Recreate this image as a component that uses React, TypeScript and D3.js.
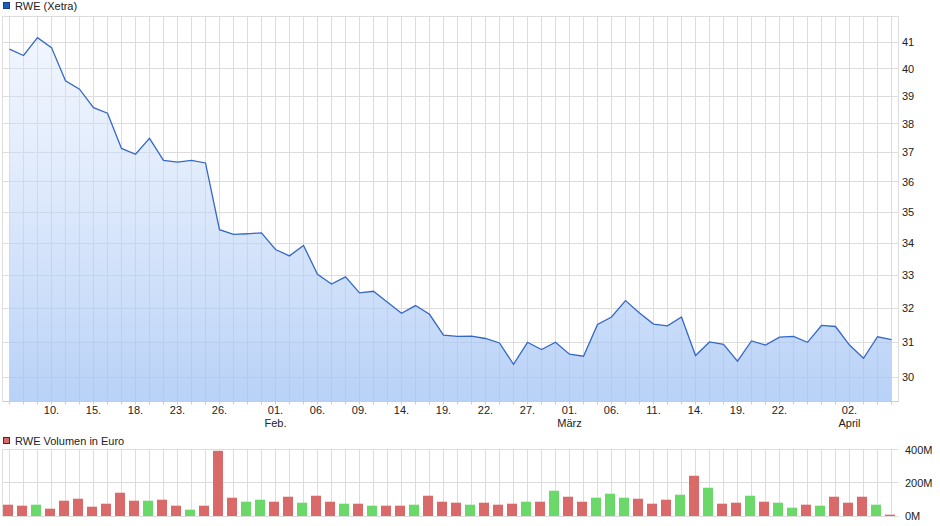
import * as d3 from "d3";
import { useEffect, useRef } from "react";

// Schlusskurse RWE (Xetra), ein Wert je Handelstag
const kurs = [40.74, 40.50, 41.18, 40.80, 39.56, 39.25, 38.58, 38.38, 37.14, 36.94,
  37.49, 36.73, 36.67, 36.73, 36.64, 34.43, 34.28, 34.30, 34.33, 33.80,
  33.60, 33.93, 33.03, 32.73, 32.95, 32.46, 32.51, 32.18, 31.85, 32.08,
  31.82, 31.21, 31.17, 31.18, 31.11, 30.98, 30.37, 31.00, 30.79, 31.00,
  30.66, 30.60, 31.52, 31.74, 32.23, 31.86, 31.53, 31.48, 31.74, 30.62,
  31.01, 30.94, 30.46, 31.04, 30.92, 31.15, 31.17, 31.00, 31.49, 31.46,
  30.92, 30.54, 31.16, 31.08];

// Volumen in Mio. Euro
const volumen = [68, 62, 68, 44, 92, 104, 56, 74, 140, 92,
  92, 98, 62, 38, 62, 392, 110, 86, 98, 86,
  116, 80, 122, 86, 74, 74, 62, 62, 62, 68,
  122, 86, 80, 68, 80, 68, 74, 86, 86, 152,
  116, 86, 110, 134, 110, 104, 74, 98, 128, 242,
  170, 74, 80, 122, 86, 80, 50, 68, 62, 116,
  80, 116, 68, 8];

const tagIdx = [3, 6, 9, 12, 15, 19, 22, 25, 28, 31, 34, 37, 40, 43, 46, 49, 52, 55, 60];
const tagLabels = ["10.", "15.", "18.", "23.", "26.", "01.", "06.", "09.", "14.", "19.", "22.", "27.", "01.", "06.", "11.", "14.", "19.", "22.", "02."];
const monatIdx = [19, 40, 60];
const monatLabels = ["Feb.", "März", "April"];

const kursTicks = [30, 31, 32, 33, 34, 35, 36, 37, 38, 39, 40, 41];
const volTicks = [0, 200, 400];

export default function App() {
  const ref = useRef<SVGSVGElement>(null);

  useEffect(() => {
    const svg = d3.select(ref.current);
    svg.selectAll("*").remove();

    const font = "'Liberation Sans', Arial, sans-serif";
    const grid = "#dddddd";
    const left = 2.5, right = 898.5;
    const top = 16.5, bottom = 401.5;
    const vTop = 449.5, vBottom = 516.5;

    const idx = d3.range(kurs.length);
    const x = d3.scaleLinear().domain([0, kurs.length - 1]).range([9.5, 891.5]);
    const y = d3.scaleLog().domain([29.33, 42.02]).range([401.7, 16]);
    const yv = d3.scaleLinear().domain([0, 400]).range([516, 449.5]);
    const snap = (v: number) => Math.floor(v) + 0.5;

    const defs = svg.append("defs");
    const grad = defs.append("linearGradient")
      .attr("id", "kursFill").attr("x1", 0).attr("y1", 0).attr("x2", 0).attr("y2", 1)
      .attr("gradientUnits", "userSpaceOnUse")
      .attr("x1", 0).attr("y1", top).attr("x2", 0).attr("y2", bottom);
    grad.append("stop").attr("offset", "0%").attr("stop-color", "#dce8fd").attr("stop-opacity", 0.35);
    grad.append("stop").attr("offset", "100%").attr("stop-color", "#9cbff4").attr("stop-opacity", 0.72);

    // Hauptchart: Gitter
    const g = svg.append("g");
    g.selectAll("line.vg").data(idx).enter().append("line")
      .attr("x1", d => x(d)).attr("x2", d => x(d))
      .attr("y1", top).attr("y2", bottom)
      .attr("stroke", grid);
    g.selectAll("line.hg").data(kursTicks).enter().append("line")
      .attr("x1", left).attr("x2", right)
      .attr("y1", d => snap(y(d))).attr("y2", d => snap(y(d)))
      .attr("stroke", grid);
    g.append("line").attr("x1", left).attr("x2", right).attr("y1", top).attr("y2", top).attr("stroke", grid);
    g.append("line").attr("x1", left).attr("x2", left).attr("y1", top).attr("y2", bottom).attr("stroke", grid);
    g.append("line").attr("x1", right).attr("x2", right).attr("y1", top).attr("y2", bottom).attr("stroke", grid);

    // Fläche + Linie
    const area = d3.area<number>().x((d, i) => x(i)).y0(bottom).y1(d => y(d));
    g.append("path").datum(kurs).attr("d", area).attr("fill", "url(#kursFill)");
    const line = d3.line<number>().x((d, i) => x(i)).y(d => y(d));
    g.append("path").datum(kurs).attr("d", line)
      .attr("fill", "none").attr("stroke", "#3468c8").attr("stroke-width", 1.3);

    // x-Achse
    g.append("line").attr("x1", left).attr("x2", right).attr("y1", bottom).attr("y2", bottom).attr("stroke", "#cccccc");
    g.selectAll("line.tk").data(idx).enter().append("line")
      .attr("x1", d => x(d)).attr("x2", d => x(d))
      .attr("y1", bottom).attr("y2", bottom + 3)
      .attr("stroke", "#cccccc");
    g.selectAll("text.tag").data(tagIdx).enter().append("text")
      .attr("x", d => x(d)).attr("y", 414)
      .attr("text-anchor", "middle")
      .attr("font-family", font).attr("font-size", 11).attr("fill", "#222")
      .text((d, i) => tagLabels[i]);
    g.selectAll("text.monat").data(monatIdx).enter().append("text")
      .attr("x", d => x(d)).attr("y", 427)
      .attr("text-anchor", "middle")
      .attr("font-family", font).attr("font-size", 11).attr("fill", "#222")
      .text((d, i) => monatLabels[i]);

    // y-Achse rechts
    g.selectAll("text.yl").data(kursTicks).enter().append("text")
      .attr("x", 902).attr("y", d => y(d) + 4)
      .attr("font-family", font).attr("font-size", 11).attr("fill", "#222")
      .text(d => d);

    // Legende
    svg.append("rect").attr("x", 3.5).attr("y", 2.5).attr("width", 6).attr("height", 6)
      .attr("fill", "#1f5bbf").attr("stroke", "#123f8c");
    svg.append("text").attr("x", 15).attr("y", 10)
      .attr("font-family", font).attr("font-size", 11).attr("fill", "#222")
      .text("RWE (Xetra)");

    // Volumen
    const v = svg.append("g");
    v.selectAll("line.vg").data(idx).enter().append("line")
      .attr("x1", d => x(d)).attr("x2", d => x(d))
      .attr("y1", vTop).attr("y2", vBottom)
      .attr("stroke", grid);
    v.selectAll("line.hg").data(volTicks).enter().append("line")
      .attr("x1", left).attr("x2", right)
      .attr("y1", d => snap(yv(d))).attr("y2", d => snap(yv(d)))
      .attr("stroke", grid);
    v.append("line").attr("x1", left).attr("x2", left).attr("y1", vTop).attr("y2", vBottom).attr("stroke", grid);

    v.selectAll("rect.bar").data(volumen).enter().append("rect")
      .attr("x", (d, i) => x(i) - 6.5).attr("width", 10)
      .attr("y", d => yv(d)).attr("height", d => yv(0) - yv(d))
      .attr("fill", (d, i) => (i > 0 && kurs[i] > kurs[i - 1]) ? "#6ad96a" : "#da6a6a");

    v.selectAll("text.yl").data(volTicks).enter().append("text")
      .attr("x", 905).attr("y", d => yv(d) + 4)
      .attr("font-family", font).attr("font-size", 11).attr("fill", "#222")
      .text(d => d + "M");

    svg.append("rect").attr("x", 3.5).attr("y", 437.5).attr("width", 6).attr("height", 6)
      .attr("fill", "#da6a6a").attr("stroke", "#333");
    svg.append("text").attr("x", 15).attr("y", 445)
      .attr("font-family", font).attr("font-size", 11).attr("fill", "#222")
      .text("RWE Volumen in Euro");
  }, []);

  return (
    <svg ref={ref} width={940} height={526}
      style={{ position: "absolute", left: 0, top: 0, background: "#fff" }} />
  );
}
